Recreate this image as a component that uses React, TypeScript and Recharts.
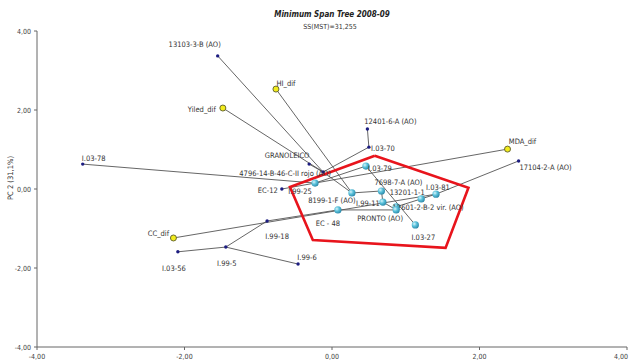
import React from 'react';
import { ScatterChart, Scatter, XAxis, YAxis } from 'recharts';

type Entry = { name: string; pc1: number; pc2: number };

const axisTicks = [-4, -2, 0, 2, 4];

// breeding lines and accessions (small navy dots)
const accessionPoints: Entry[] = [
  { name: '13103-3-B (AO)', pc1: -1.55, pc2: 3.37 },
  { name: '12401-6-A (AO)', pc1: 0.48, pc2: 1.52 },
  { name: 'I.03-70', pc1: 0.5, pc2: 1.06 },
  { name: 'GRANOLEICO', pc1: -0.31, pc2: 0.63 },
  { name: '4796-14-B-46-C-II rojo (AO)', pc1: -0.12, pc2: 0.43 },
  { name: 'EC-12', pc1: -0.68, pc2: 0.0 },
  { name: 'I.99-18', pc1: -0.88, pc2: -0.81 },
  { name: '17104-2-A (AO)', pc1: 2.53, pc2: 0.71 },
  { name: 'I.03-78', pc1: -3.38, pc2: 0.63 },
  { name: 'I.03-56', pc1: -2.09, pc2: -1.59 },
  { name: 'I.99-5', pc1: -1.44, pc2: -1.47 },
  { name: 'I.99-6', pc1: -0.46, pc2: -1.9 },
];

// trait vectors (yellow rings)
const traitPoints: Entry[] = [
  { name: 'HI_dif', pc1: -0.76, pc2: 2.53 },
  { name: 'Yiled_dif', pc1: -1.48, pc2: 2.05 },
  { name: 'MDA_dif', pc1: 2.38, pc2: 1.01 },
  { name: 'CC_dif', pc1: -2.15, pc2: -1.24 },
];

// highlighted group (cyan balls)
const groupPoints: Entry[] = [
  { name: 'I.99-25', pc1: -0.23, pc2: 0.15 },
  { name: 'I.03-79', pc1: 0.46, pc2: 0.58 },
  { name: '8199-1-F (AO)', pc1: 0.27, pc2: -0.1 },
  { name: '7698-7-A (AO)', pc1: 0.67, pc2: -0.05 },
  { name: 'I.99-11', pc1: 0.69, pc2: -0.33 },
  { name: '12601-2-B-2 vir. (AO)', pc1: 0.87, pc2: -0.45 },
  { name: 'PRONTO (AO)', pc1: 0.87, pc2: -0.53 },
  { name: '13201-1-1', pc1: 1.21, pc2: -0.25 },
  { name: 'I.03-81', pc1: 1.41, pc2: -0.13 },
  { name: 'EC - 48', pc1: 0.08, pc2: -0.53 },
  { name: 'I.03-27', pc1: 1.13, pc2: -0.91 },
];

const HUB = '4796-14-B-46-C-II rojo (AO)';

const spanEdges: [string, string][] = [
  ['13103-3-B (AO)', HUB],
  ['Yiled_dif', HUB],
  ['GRANOLEICO', HUB],
  ['HI_dif', '8199-1-F (AO)'],
  [HUB, 'I.03-70'],
  ['I.03-70', '12401-6-A (AO)'],
  ['I.03-78', 'I.99-25'],
  ['EC-12', 'I.99-25'],
  ['MDA_dif', 'I.99-25'],
  ['I.99-25', 'I.03-79'],
  ['I.03-79', 'I.03-27'],
  [HUB, '8199-1-F (AO)'],
  ['8199-1-F (AO)', '7698-7-A (AO)'],
  ['7698-7-A (AO)', 'I.99-11'],
  ['I.99-11', 'PRONTO (AO)'],
  ['EC - 48', 'PRONTO (AO)'],
  ['I.99-18', 'EC - 48'],
  ['I.99-18', 'I.99-5'],
  ['I.99-5', 'I.03-56'],
  ['I.99-5', 'I.99-6'],
  ['PRONTO (AO)', '12601-2-B-2 vir. (AO)'],
  ['12601-2-B-2 vir. (AO)', '13201-1-1'],
  ['13201-1-1', 'I.03-81'],
  ['I.03-81', '17104-2-A (AO)'],
  ['CC_dif', 'I.03-81'],
];

// red outline around the group, closed
const groupOutline = [
  { pc1: 0.58, pc2: 0.84 },
  { pc1: 1.85, pc2: 0.03 },
  { pc1: 1.54, pc2: -1.49 },
  { pc1: -0.26, pc2: -1.29 },
  { pc1: -0.57, pc2: 0.05 },
  { pc1: 0.58, pc2: 0.84 },
];

// label placement relative to its point, in px (text centre)
const labelOffset: Record<string, [number, number]> = {
  '13103-3-B (AO)': [-23, -11],
  'HI_dif': [10, -6],
  'Yiled_dif': [-21, 1],
  '12401-6-A (AO)': [23, -7],
  'I.03-70': [14, 1],
  'GRANOLEICO': [-22, -9],
  [HUB]: [-38, 1],
  'EC-12': [-14, 1],
  'I.99-25': [-15, 8],
  'I.03-79': [14, 2],
  '8199-1-F (AO)': [-20, 8],
  '7698-7-A (AO)': [17, -8],
  'I.99-11': [-15, 1],
  '13201-1-1': [-14, -6],
  'I.03-81': [2, -7],
  '12601-2-B-2 vir. (AO)': [32, 1],
  'PRONTO (AO)': [-16, 9],
  'EC - 48': [-10, 14],
  'I.03-27': [8, 13],
  'I.99-18': [10, 16],
  'I.99-6': [9, -7],
  'I.99-5': [1, 16],
  'I.03-56': [-4, 17],
  'CC_dif': [-15, -4],
  'I.03-78': [11, -6],
  'MDA_dif': [15, -8],
  '17104-2-A (AO)': [27, 7],
};

const allPoints = [...accessionPoints, ...traitPoints, ...groupPoints];
const byName: Record<string, Entry> = Object.fromEntries(allPoints.map((p) => [p.name, p]));

const FONT = "'Liberation Sans Narrow', 'DejaVu Sans Condensed', 'Liberation Sans', Arial, sans-serif";
const fmt = (v: number) => v.toFixed(2).replace('.', ',');

const PointLabel = ({ cx, cy, name }: { cx: number; cy: number; name: string }) => {
  const [dx, dy] = labelOffset[name] ?? [0, -8];
  return (
    <text x={cx + dx} y={cy + dy + 2.5} textAnchor="middle" fontSize={7.5} fill="#333" fontFamily={FONT}>
      {name}
    </text>
  );
};

const nameOf = (p: any) => p.payload?.name ?? p.name;

const NavyDot = (p: any) => (
  <g>
    <circle cx={p.cx} cy={p.cy} r={1.7} fill="#1c1c80" />
    <PointLabel cx={p.cx} cy={p.cy} name={nameOf(p)} />
  </g>
);

const YellowRing = (p: any) => (
  <g>
    <circle cx={p.cx} cy={p.cy} r={3} fill="#f2ec1c" stroke="#6b6b30" strokeWidth={1} />
    <PointLabel cx={p.cx} cy={p.cy} name={nameOf(p)} />
  </g>
);

const CyanBall = (p: any) => (
  <g>
    <circle cx={p.cx} cy={p.cy} r={3.6} fill="url(#ball)" />
    <PointLabel cx={p.cx} cy={p.cy} name={nameOf(p)} />
  </g>
);

const Blank = () => <g />;

// tick text for both axes, comma decimals; the last x tick sits at the edge
const XTick = (p: any) => {
  const last = p.payload.value === axisTicks[axisTicks.length - 1];
  return (
    <text x={p.x + (last ? 2 : 0)} y={p.y + 7} textAnchor={last ? 'end' : 'middle'} fontSize={7} fill="#444" fontFamily={FONT}>
      {fmt(p.payload.value)}
    </text>
  );
};
const YTick = (p: any) => (
  <text x={p.x - 1} y={p.y + 2.5} textAnchor="end" fontSize={7} fill="#444" fontFamily={FONT}>
    {fmt(p.payload.value)}
  </text>
);

export default function App() {
  return (
    <div style={{ position: 'absolute', left: 0, top: 0, width: 630, height: 360, background: '#fff', overflow: 'hidden' }}>
      <svg width={0} height={0} style={{ position: 'absolute' }}>
        <defs>
          <radialGradient id="ball" cx="35%" cy="35%" r="70%">
            <stop offset="0%" stopColor="#d8f4fb" />
            <stop offset="45%" stopColor="#5cc3dc" />
            <stop offset="100%" stopColor="#2a87a8" />
          </radialGradient>
        </defs>
      </svg>
      <ScatterChart width={630} height={360} margin={{ top: 31, right: 3, bottom: 0, left: 7 }}>
        <XAxis
          type="number"
          dataKey="pc1"
          domain={[-4, 4]}
          ticks={axisTicks}
          tick={XTick}
          tickSize={3}
          stroke="#666"
          height={13}
          allowDataOverflow
        />
        <YAxis
          type="number"
          dataKey="pc2"
          domain={[-4, 4]}
          ticks={axisTicks}
          tick={YTick}
          tickSize={3}
          stroke="#666"
          width={30}
          allowDataOverflow
        />
        {spanEdges.map(([a, b], i) => (
          <Scatter
            key={`e${i}`}
            data={[byName[a], byName[b]]}
            line={{ stroke: '#555', strokeWidth: 0.9 }}
            shape={Blank}
            isAnimationActive={false}
          />
        ))}
        <Scatter
          data={groupOutline}
          line={{ stroke: '#e8141c', strokeWidth: 2.6 }}
          shape={Blank}
          isAnimationActive={false}
        />
        <Scatter data={accessionPoints} shape={NavyDot} isAnimationActive={false} />
        <Scatter data={traitPoints} shape={YellowRing} isAnimationActive={false} />
        <Scatter data={groupPoints} shape={CyanBall} isAnimationActive={false} />
      </ScatterChart>
      <div
        style={{
          position: 'absolute', left: 0, top: 10, width: 664, textAlign: 'center',
          fontFamily: FONT, fontSize: 8, fontWeight: 'bold', fontStyle: 'italic', color: '#222',
        }}
      >
        Minimum Span Tree 2008-09
      </div>
      <div
        style={{
          position: 'absolute', left: 0, top: 23, width: 660, textAlign: 'center',
          fontFamily: FONT, fontSize: 7, color: '#333',
        }}
      >
        SS(MST)=31,255
      </div>
      <div
        style={{
          position: 'absolute', left: 10, top: 178, transform: 'translate(-50%, -50%) rotate(-90deg)',
          fontFamily: FONT, fontSize: 7.5, color: '#333', whiteSpace: 'nowrap',
        }}
      >
        PC 2 (31,1%)
      </div>
    </div>
  );
}
